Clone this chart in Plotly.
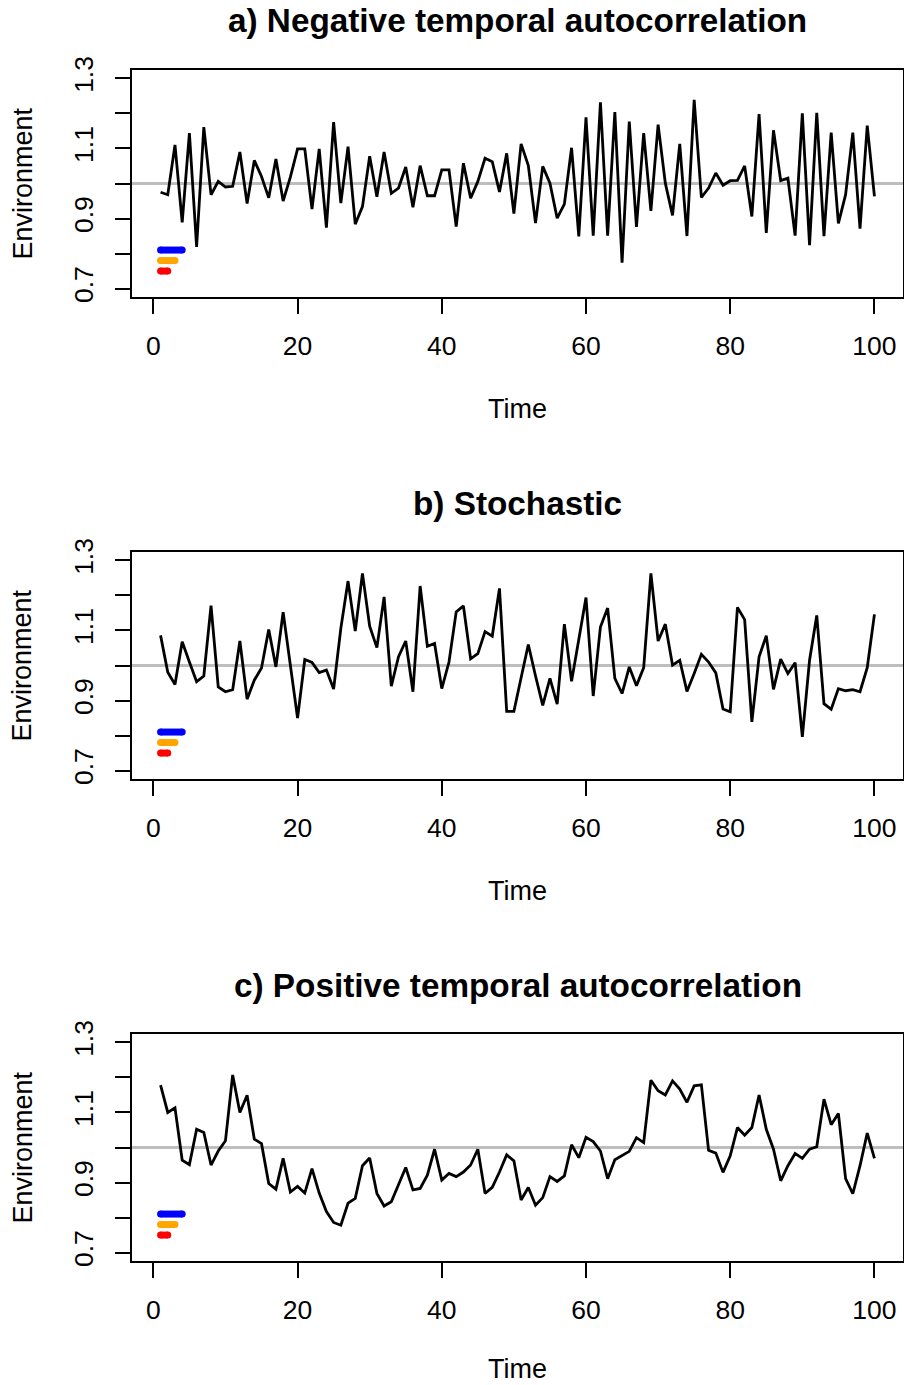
import plotly.graph_objects as go

time = list(range(1, 101))

neg_values = [
    0.975, 0.968, 1.11, 0.889, 1.144, 0.819, 1.161, 0.968, 1.006, 0.99,
    0.992, 1.09, 0.943, 1.066, 1.02, 0.959, 1.07, 0.95, 1.018, 1.099,
    1.099, 0.927, 1.099, 0.874, 1.175, 0.944, 1.105, 0.884, 0.934, 1.078,
    0.962, 1.09, 0.972, 0.987, 1.047, 0.932, 1.051, 0.965, 0.965, 1.039,
    1.039, 0.877, 1.058, 0.958, 1.006, 1.072, 1.062, 0.976, 1.086, 0.914,
    1.113, 1.051, 0.887, 1.049, 1.001, 0.901, 0.941, 1.102, 0.849, 1.189,
    0.851, 1.232, 0.851, 1.204, 0.774, 1.177, 0.876, 1.144, 0.922, 1.168,
    1.001, 0.909, 1.113, 0.850, 1.239, 0.960, 0.987, 1.030, 0.995, 1.008,
    1.009, 1.050, 0.906, 1.198, 0.859, 1.152, 1.008, 1.015, 0.851, 1.200,
    0.824, 1.202, 0.850, 1.145, 0.886, 0.968, 1.145, 0.871, 1.165, 0.963,
]

stoch_values = [
    1.086, 0.981, 0.946, 1.068, 1.010, 0.954, 0.970, 1.171, 0.939, 0.925,
    0.931, 1.070, 0.904, 0.958, 0.993, 1.103, 0.996, 1.152, 1.001, 0.850,
    1.017, 1.009, 0.980, 0.987, 0.933, 1.106, 1.241, 1.098, 1.263, 1.112,
    1.051, 1.196, 0.941, 1.025, 1.070, 0.925, 1.227, 1.055, 1.063, 0.934,
    1.010, 1.153, 1.170, 1.019, 1.034, 1.097, 1.084, 1.220, 0.869, 0.869,
    0.965, 1.060, 0.970, 0.886, 0.963, 0.890, 1.118, 0.955, 1.074, 1.194,
    0.913, 1.110, 1.164, 0.963, 0.920, 0.996, 0.942, 0.994, 1.263, 1.070,
    1.118, 1.001, 1.015, 0.926, 0.977, 1.032, 1.010, 0.979, 0.876, 0.868,
    1.166, 1.131, 0.839, 1.025, 1.085, 0.932, 1.018, 0.977, 1.008, 0.796,
    1.015, 1.143, 0.891, 0.875, 0.934, 0.928, 0.931, 0.925, 0.994, 1.146,
]

pos_values = [
    1.178, 1.100, 1.113, 0.964, 0.951, 1.052, 1.043, 0.950, 0.990, 1.019,
    1.207, 1.100, 1.149, 1.024, 1.011, 0.897, 0.881, 0.969, 0.873, 0.889,
    0.870, 0.940, 0.870, 0.817, 0.786, 0.778, 0.841, 0.855, 0.948, 0.970,
    0.869, 0.833, 0.845, 0.895, 0.943, 0.879, 0.883, 0.921, 0.995, 0.907,
    0.926, 0.917, 0.930, 0.950, 0.995, 0.869, 0.886, 0.930, 0.979, 0.962,
    0.850, 0.886, 0.835, 0.857, 0.917, 0.903, 0.919, 1.008, 0.971, 1.029,
    1.017, 0.990, 0.911, 0.965, 0.976, 0.989, 1.028, 1.014, 1.192, 1.162,
    1.150, 1.190, 1.167, 1.129, 1.176, 1.179, 0.992, 0.984, 0.929, 0.976,
    1.057, 1.035, 1.057, 1.150, 1.052, 0.995, 0.905, 0.948, 0.983, 0.969,
    0.995, 1.002, 1.138, 1.065, 1.097, 0.911, 0.868, 0.948, 1.041, 0.969,
]

panel_titles = [
    "a) Negative temporal autocorrelation",
    "b) Stochastic",
    "c) Positive temporal autocorrelation",
]
panel_series = [neg_values, stoch_values, pos_values]

seg_start = [1, 1, 1]
seg_end = [4, 3, 2]
seg_level = [0.81, 0.78, 0.75]
seg_colors = ["#0000FF", "#FFA500", "#FF0000"]

x_ticks = [0, 20, 40, 60, 80, 100]
y_ticks = [0.7, 0.8, 0.9, 1.0, 1.1, 1.2, 1.3]
y_ticktext = ["0.7", "", "0.9", "", "1.1", "", "1.3"]

W, H = 904, 1385
box_left, box_right = 132, 903
box_tops = [70, 552, 1034]
box_h = 227
xlabel_offsets = [112, 112, 108]

FONT = "Liberation Sans, Arial, sans-serif"

fig = go.Figure()
layout = dict(
    width=W, height=H,
    margin=dict(l=0, r=0, t=0, b=0, autoexpand=False),
    paper_bgcolor="white", plot_bgcolor="white",
    showlegend=False,
    font=dict(family=FONT, size=26, color="black"),
)
annotations = []

for i, (title, series) in enumerate(zip(panel_titles, panel_series)):
    n = i + 1
    xa = "x" if n == 1 else f"x{n}"
    ya = "y" if n == 1 else f"y{n}"
    top = box_tops[i]
    bot = top + box_h
    dom_y = [1 - bot / H, 1 - top / H]
    dom_x = [box_left / W, box_right / W]

    # reference line at 1
    fig.add_trace(go.Scatter(
        x=[time[0] - 10, time[-1] + 10], y=[1.0, 1.0], mode="lines",
        line=dict(color="#BEBEBE", width=2.8), xaxis=xa, yaxis=ya,
        hoverinfo="skip", cliponaxis=True))
    # series
    fig.add_trace(go.Scatter(
        x=time, y=series, mode="lines",
        line=dict(color="black", width=2.8), xaxis=xa, yaxis=ya))
    # colour segments
    for s0, s1, lv, col in zip(seg_start, seg_end, seg_level, seg_colors):
        fig.add_trace(go.Scatter(
            x=[s0, s1], y=[lv, lv], mode="lines+markers",
            line=dict(color=col, width=7),
            marker=dict(color=col, size=7, line=dict(width=0)),
            xaxis=xa, yaxis=ya, hoverinfo="skip"))

    xkey = "xaxis" if n == 1 else f"xaxis{n}"
    ykey = "yaxis" if n == 1 else f"yaxis{n}"
    layout[xkey] = dict(
        domain=dom_x, anchor=ya, range=[-2.96, 103.96], automargin=False,
        tickmode="array", tickvals=x_ticks, ticktext=[str(v) for v in x_ticks],
        ticks="outside", ticklen=15, tickwidth=2, tickcolor="black",
        showline=True, linecolor="black", linewidth=2, mirror=True,
        showgrid=False, zeroline=False,
        tickfont=dict(family=FONT, size=26.5, color="black"),
        ticklabelstandoff=9,
    )
    layout[ykey] = dict(
        domain=dom_y, anchor=xa, range=[0.676, 1.324], automargin=False,
        tickmode="array", tickvals=y_ticks, ticktext=y_ticktext,
        ticks="outside", ticklen=15, tickwidth=2, tickcolor="black",
        showline=True, linecolor="black", linewidth=2, mirror=True,
        showgrid=False, zeroline=False, tickangle=-90,
        tickfont=dict(family=FONT, size=26.5, color="black"),
        ticklabelstandoff=11,
    )
    # panel title
    annotations.append(dict(
        text=f"<b>{title}</b>", xref="paper", yref="paper",
        x=(box_left + box_right) / 2 / W, y=1 - (top - 49) / H,
        xanchor="center", yanchor="middle", showarrow=False,
        font=dict(family=FONT, size=33.3, color="black")))
    # x label
    annotations.append(dict(
        text="Time", xref="paper", yref="paper",
        x=(box_left + box_right) / 2 / W, y=1 - (bot + xlabel_offsets[i]) / H,
        xanchor="center", yanchor="middle", showarrow=False,
        font=dict(family=FONT, size=27, color="black")))
    # y label
    annotations.append(dict(
        text="Environment", xref="paper", yref="paper",
        x=22 / W, y=1 - (top + box_h / 2) / H, textangle=-90,
        xanchor="center", yanchor="middle", showarrow=False,
        font=dict(family=FONT, size=27, color="black")))

layout["annotations"] = annotations
fig.update_layout(**layout)
fig.write_html("out.html")
